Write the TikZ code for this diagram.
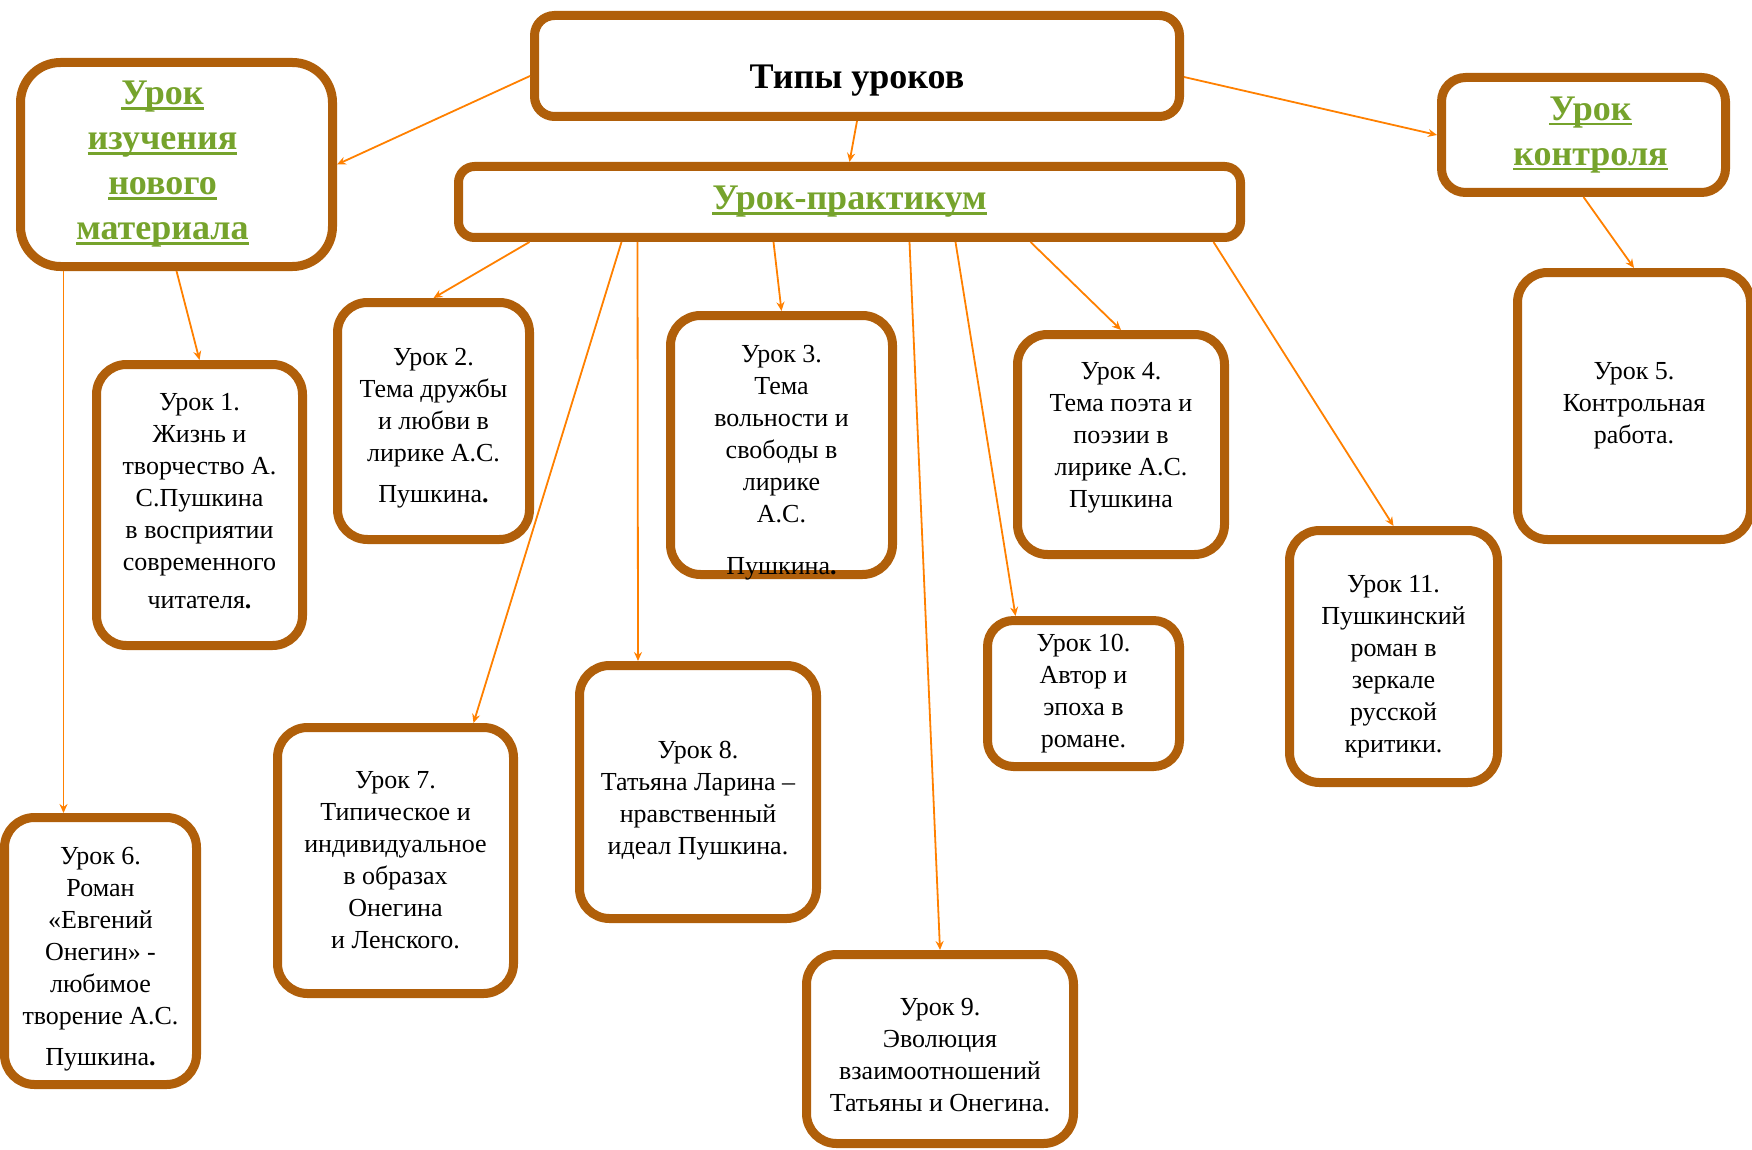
\documentclass[tikz,border=0pt]{standalone}
\usepackage{fontspec}
\setmainfont{Liberation Serif}
\usetikzlibrary{arrows.meta,positioning}
\definecolor{brd}{RGB}{176,95,10}
\definecolor{grn}{RGB}{118,163,44}
\definecolor{arr}{RGB}{255,128,0}
\newcommand{\grul}[1]{\leavevmode\setbox0\hbox{#1}\rlap{\rule[-5pt]{\wd0}{2.5pt}}\box0}

\begin{document}
\begin{tikzpicture}[x=1pt, y=-1pt,
    lesson/.style={rectangle, draw=brd, line width=9pt, fill=white, rounded corners=30pt, align=center, inner sep=4pt, font=\fontsize{26}{32}\selectfont},
    head/.style={lesson, font=\bfseries\fontsize{36}{45}\selectfont, text=grn},
    link/.style={-{Stealth[length=9pt,width=8pt,inset=3pt]}, draw=arr, line width=1.8pt}
]
    \useasboundingbox (0,0) rectangle (1752,1150);

    % Типы уроков
    \node[head, text=black, rounded corners=20pt, minimum width=645pt, minimum height=101pt] (tipy) at (857,66) {\rule{0pt}{53pt}Типы уроков};

    % три вида уроков
    \node[head, rounded corners=40pt, minimum width=312pt, minimum height=204pt] (izuch) at (176.5,164.5) {\hbox{\grul{Урок}\kern28pt}\\\hbox{\grul{изучения}\kern28pt}\\\hbox{\grul{нового}\kern28pt}\\\hbox{\grul{материала}\kern28pt}};
    \node[head, rounded corners=16pt, minimum width=782pt, minimum height=71pt] (prakt) at (849.5,202) {\grul{Урок-практикум}};
    \node[head, rounded corners=24pt, minimum width=284pt, minimum height=115pt] (kontr) at (1583.5,135) {\hbox{\kern14pt\grul{Урок}}\\\hbox{\kern14pt\grul{контроля}}};

    % уроки
    \node[lesson, minimum width=206pt, minimum height=281pt] (u1) at (199.5,505) {Урок 1.\\Жизнь и\\творчество А.\\С.Пушкина\\в восприятии\\современного\\[6pt]читателя\textbf{.}\rule[-8pt]{0pt}{0pt}};
    \node[lesson, minimum width=192pt, minimum height=237pt] (u2) at (433.5,421) {\rule{0pt}{32pt}Урок 2.\\Тема дружбы\\и любви в\\лирике А.С.\\[9pt]Пушкина\textbf{.}};
    \node[lesson, minimum width=222pt, minimum height=251pt, inner ysep=0pt] (u3) at (781.5,445) {\rule{0pt}{47pt}Урок 3.\\Тема\\вольности и\\свободы в\\лирике\\А.С.\\[20pt]\smash{Пушкина\textbf{.}}};
    \node[lesson, minimum width=207pt, minimum height=220pt] (u4) at (1121,444.5) {Урок 4.\\Тема поэта и\\поэзии в\\лирике А.С.\\Пушкина\rule[-20pt]{0pt}{0pt}};
    \node[lesson, minimum width=233pt, minimum height=267pt] (u5) at (1634,406) {Урок 5.\\Контрольная\\работа.};
    \node[lesson, minimum width=192pt, minimum height=267pt] (u6) at (100.5,951) {\rule{0pt}{34pt}Урок 6.\\Роман\\«Евгений\\Онегин» -\\любимое\\творение А.С.\\[9pt]Пушкина\textbf{.}};
    \node[lesson, minimum width=236pt, minimum height=266pt] (u7) at (395.5,860.5) {Урок 7.\\Типическое и\\индивидуальное\\в образах\\Онегина\\и Ленского.};
    \node[lesson, minimum width=237pt, minimum height=253pt] (u8) at (698,792) {\rule{0pt}{34pt}Урок 8.\\Татьяна Ларина –\\нравственный\\идеал Пушкина.};
    \node[lesson, minimum width=267pt, minimum height=189pt] (u9) at (940,1049) {\rule{0pt}{30pt}Урок 9.\\Эволюция\\взаимоотношений\\Татьяны и Онегина.};
    \node[lesson, minimum width=192pt, minimum height=146pt, rounded corners=26pt] (u10) at (1083.5,693.5) {Урок 10.\\Автор и\\эпоха в\\романе.};
    \node[lesson, minimum width=208pt, minimum height=252pt] (u11) at (1393.5,656.5) {\rule{0pt}{38pt}Урок 11.\\Пушкинский\\роман в\\зеркале\\русской\\критики.};

    % стрелки сверху
    \draw[link] ([yshift=-10pt]tipy.west) -- (izuch.east);
    \draw[link] (tipy.south) -- (prakt.north);
    \draw[link] ([yshift=-11pt]tipy.east) -- (kontr.west);
    \draw[link] (kontr.south) -- (u5.north);

    % стрелки от урока изучения
    \draw[link] ([xshift=-113pt]izuch.south) -- ([xshift=-37pt]u6.north);
    \draw[link] (izuch.south) -- (u1.north);

    % стрелки от практикума
    \draw[link] ([xshift=-320pt]prakt.south) -- (u2.north);
    \draw[link] ([xshift=-228pt]prakt.south) -- ([xshift=78pt]u7.north);
    \draw[link] ([xshift=-212pt]prakt.south) -- ([xshift=-60pt]u8.north);
    \draw[link] ([xshift=-76pt]prakt.south) -- (u3.north);
    \draw[link] ([xshift=60pt]prakt.south) -- (u9.north);
    \draw[link] ([xshift=106pt]prakt.south) -- ([xshift=-68pt]u10.north);
    \draw[link] ([xshift=181pt]prakt.south) -- (u4.north);
    \draw[link] ([xshift=364pt]prakt.south) -- (u11.north);
\end{tikzpicture}
\end{document}
